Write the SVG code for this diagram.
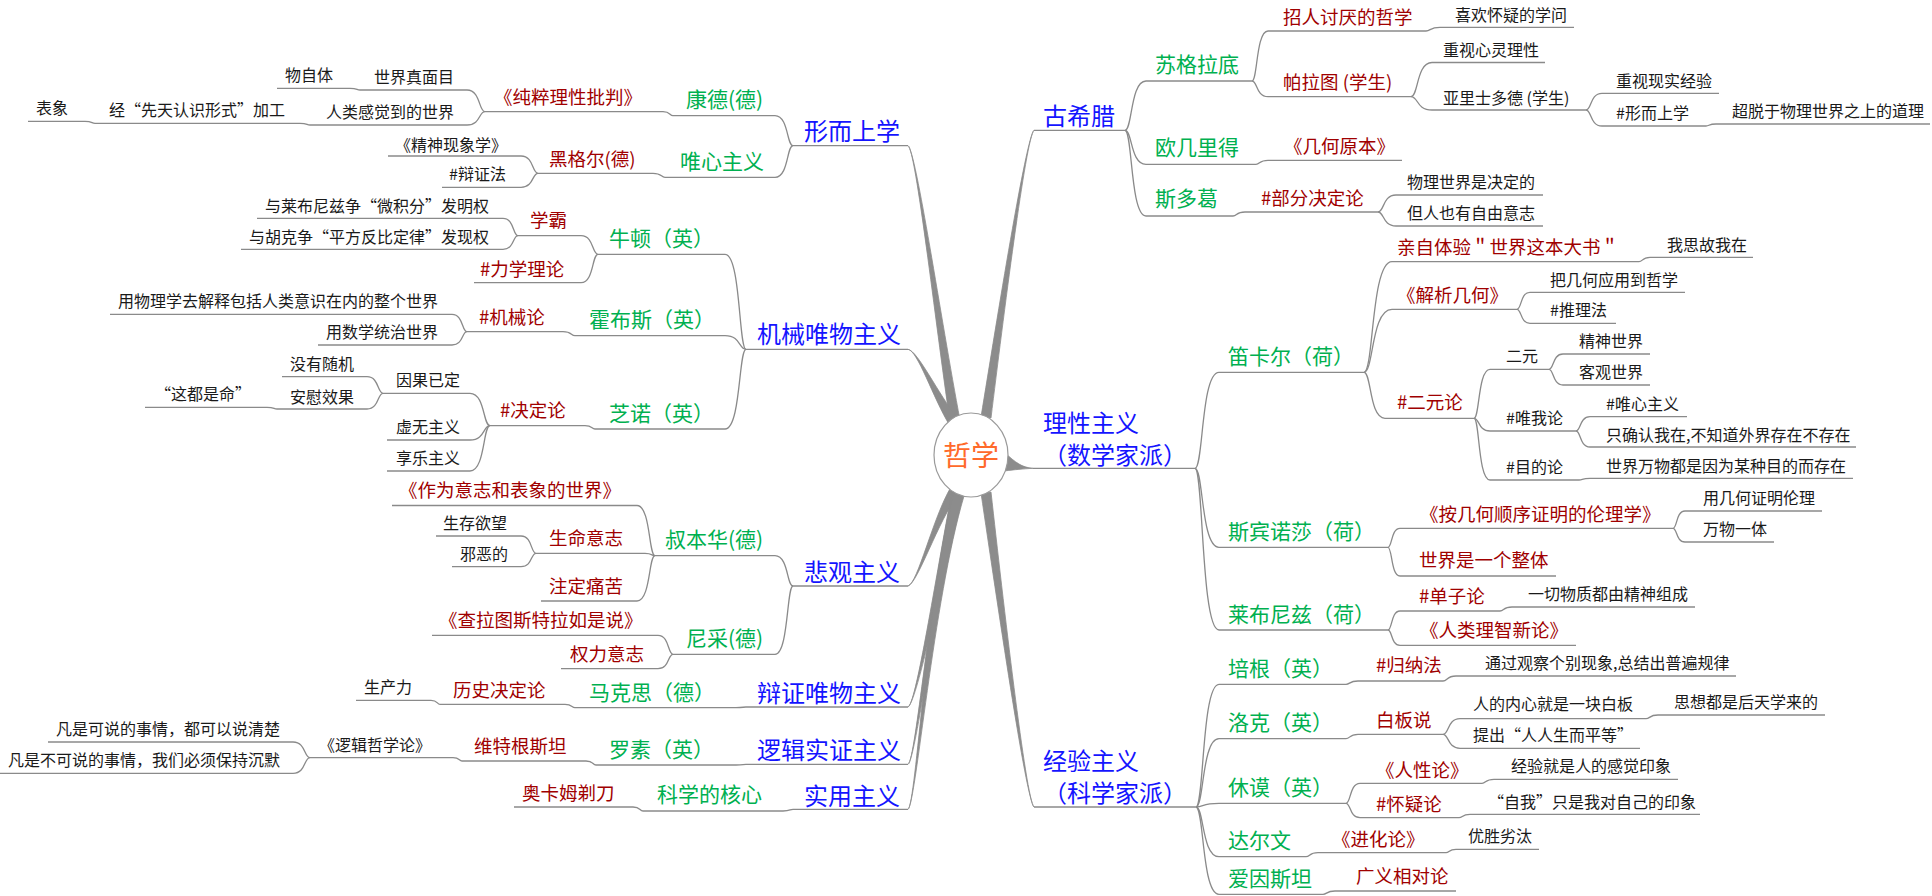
<svg xmlns="http://www.w3.org/2000/svg" width="1932" height="896" viewBox="0 0 1932 896">
<style>
text{font-family:"Noto Sans CJK SC","Noto Sans",sans-serif}
.l1{font-size:24px;fill:#1414ff}
.l2{font-size:21px;fill:#00b050}
.l3{font-size:18.5px;fill:#a00000}
.l4{font-size:16px;fill:#1a1a1a}
.u,.c{stroke:#8a8a8a;stroke-width:1.3;fill:none}
.m{fill:#8c8c8c;stroke:#8c8c8c;stroke-width:0.8}
</style>
<rect width="1932" height="896" fill="#fff"/>
<g id="main-connectors">
<path class="m" d="M908,145.7 C916,150 941,320 960,420 L950,422 C935,320 916,150 908,145.7 Z"/>
<path class="m" d="M908,349.3 C918,351 937.5,393 958,419 L950,426 C932.5,397 918,351 908,349.3 Z"/>
<path class="m" d="M908,586 C918,583 937.4,522 959,493 L951,487 C932.6,518 918,583 908,586 Z"/>
<path class="m" d="M908,707 C916,703 938,601 962,493 L952,491 C932,599 916,703 908,707 Z"/>
<path class="m" d="M908,764.3 C916,760 935,601 963,495 L953,492 C929,599 916,760 908,764.3 Z"/>
<path class="m" d="M908,809.3 C916,805 933,601 964,496 L954,493 C927,599 916,805 908,809.3 Z"/>
<path class="m" d="M1034,130.3 C1026,137 1003,320.5 991,418 L981,417 C997,319.5 1026,137 1034,130.3 Z"/>
<path class="m" d="M1034,807 C1026,800 1003,599.6 991,492 L981,493 C997,600.4 1026,800 1034,807 Z"/>
<path class="m" d="M1033,468.3 C1022,467.5 1016,463 1004,452 L1004,471 C1016,469.5 1022,469 1033,468.3 Z"/>
</g>
<g id="connectors">
<path class="c" d="M1125,130.3 C1132.4,130.3 1130.3,81 1146,81"/>
<path class="c" d="M1125,130.3 C1132.4,130.3 1130.3,164.3 1146,164.3"/>
<path class="c" d="M1125,130.3 C1132.4,130.3 1130.3,216 1146,216"/>
<path class="c" d="M1252,81 C1257.6,81 1256,31 1268,31"/>
<path class="c" d="M1252,81 C1257.6,81 1256,96.7 1268,96.7"/>
<path class="c" d="M1426,31 C1430.9,31 1429.5,27.3 1440,27.3"/>
<path class="c" d="M1411,96.7 C1418.4,96.7 1416.3,62.5 1432,62.5"/>
<path class="c" d="M1411,96.7 C1418.4,96.7 1416.3,110 1432,110"/>
<path class="c" d="M1586,110 C1591.6,110 1590,93.3 1602,93.3"/>
<path class="c" d="M1586,110 C1591.6,110 1590,126 1602,126"/>
<path class="c" d="M1706,126 C1709.5,126 1708.5,124 1716,124"/>
<path class="c" d="M1256,164.3 C1260.2,164.3 1259,160.3 1268,160.3"/>
<path class="c" d="M1233,216 C1237.2,216 1236,212 1245,212"/>
<path class="c" d="M1378,212 C1384.3,212 1382.5,195 1396,195"/>
<path class="c" d="M1378,212 C1384.3,212 1382.5,226 1396,226"/>
<path class="c" d="M1195,468.3 C1203.4,468.3 1201,372.3 1219,372.3"/>
<path class="c" d="M1195,468.3 C1203.4,468.3 1201,547.3 1219,547.3"/>
<path class="c" d="M1195,468.3 C1203.4,468.3 1201,630 1219,630"/>
<path class="c" d="M1364,372.3 C1373.8,372.3 1371,261.7 1392,261.7"/>
<path class="c" d="M1364,372.3 C1373.8,372.3 1371,309.3 1392,309.3"/>
<path class="c" d="M1364,372.3 C1371.4,372.3 1369.3,418.3 1385,418.3"/>
<path class="c" d="M1639,261.7 C1642.9,261.7 1641.8,257.3 1650,257.3"/>
<path class="c" d="M1517,309.3 C1521.6,309.3 1520.3,292.3 1530,292.3"/>
<path class="c" d="M1517,309.3 C1521.6,309.3 1520.3,323.3 1530,323.3"/>
<path class="c" d="M1474,418.3 C1479.6,418.3 1478,369.3 1490,369.3"/>
<path class="c" d="M1474,418.3 C1479.6,418.3 1478,431 1490,431"/>
<path class="c" d="M1474,418.3 C1479.6,418.3 1478,480 1490,480"/>
<path class="c" d="M1549,369.3 C1553.9,369.3 1552.5,354 1563,354"/>
<path class="c" d="M1549,369.3 C1553.9,369.3 1552.5,385 1563,385"/>
<path class="c" d="M1576,431 C1580.9,431 1579.5,416.7 1590,416.7"/>
<path class="c" d="M1576,431 C1580.9,431 1579.5,447 1590,447"/>
<path class="c" d="M1579,480 C1582.9,480 1581.8,478.3 1590,478.3"/>
<path class="c" d="M1388,547.3 C1392.2,547.3 1391,528.3 1400,528.3"/>
<path class="c" d="M1388,547.3 C1392.2,547.3 1391,576 1400,576"/>
<path class="c" d="M1673,528.3 C1677.2,528.3 1676,511 1685,511"/>
<path class="c" d="M1673,528.3 C1677.2,528.3 1676,542 1685,542"/>
<path class="c" d="M1388,630 C1392.2,630 1391,611 1400,611"/>
<path class="c" d="M1388,630 C1392.2,630 1391,645.3 1400,645.3"/>
<path class="c" d="M1500,611 C1504.2,611 1503,607 1512,607"/>
<path class="c" d="M1196,807 C1204,807 1201.8,684.3 1219,684.3"/>
<path class="c" d="M1196,807 C1204,807 1201.8,738.7 1219,738.7"/>
<path class="c" d="M1196,807 C1204,807 1201.8,803.3 1219,803.3"/>
<path class="c" d="M1196,807 C1204,807 1201.8,856.7 1219,856.7"/>
<path class="c" d="M1196,807 C1204,807 1201.8,894.3 1219,894.3"/>
<path class="c" d="M1346,684.3 C1350.2,684.3 1349,681 1358,681"/>
<path class="c" d="M1443,681 C1447.6,681 1446.3,676 1456,676"/>
<path class="c" d="M1346,738.7 C1350.2,738.7 1349,734.3 1358,734.3"/>
<path class="c" d="M1443,734.3 C1449,734.3 1447.3,718.7 1460,718.7"/>
<path class="c" d="M1443,734.3 C1449,734.3 1447.3,748.3 1460,748.3"/>
<path class="c" d="M1646,718.7 C1650.2,718.7 1649,715 1658,715"/>
<path class="c" d="M1346,803.3 C1350.9,803.3 1349.5,783.3 1360,783.3"/>
<path class="c" d="M1346,803.3 C1350.9,803.3 1349.5,817.7 1360,817.7"/>
<path class="c" d="M1482,783.3 C1486.2,783.3 1485,779.3 1494,779.3"/>
<path class="c" d="M1459,817.7 C1462.9,817.7 1461.8,814.3 1470,814.3"/>
<path class="c" d="M1306,856.7 C1310.2,856.7 1309,852.7 1318,852.7"/>
<path class="c" d="M1446,852.7 C1449.5,852.7 1448.5,849.3 1456,849.3"/>
<path class="c" d="M1323,894.3 C1327.2,894.3 1326,891 1335,891"/>
<path class="c" d="M793,145.7 C786.7,145.7 788.5,115.7 775,115.7"/>
<path class="c" d="M793,145.7 C786.7,145.7 788.5,177.3 775,177.3"/>
<path class="c" d="M673,115.7 C669.5,115.7 670.5,111.7 663,111.7"/>
<path class="c" d="M485,111.7 C478.7,111.7 480.5,90 467,90"/>
<path class="c" d="M485,111.7 C478.7,111.7 480.5,125 467,125"/>
<path class="c" d="M360,90 C356.5,90 357.5,88.3 350,88.3"/>
<path class="c" d="M310,125 C306.5,125 307.5,123.3 300,123.3"/>
<path class="c" d="M95,123.3 C91.5,123.3 92.5,121.3 85,121.3"/>
<path class="c" d="M665,177.3 C660.8,177.3 662,173.3 653,173.3"/>
<path class="c" d="M538,173.3 C532,173.3 533.8,156 521,156"/>
<path class="c" d="M538,173.3 C532,173.3 533.8,187.3 521,187.3"/>
<path class="c" d="M746,349.3 C738.7,349.3 740.8,254.3 725,254.3"/>
<path class="c" d="M746,349.3 C738.7,349.3 740.8,335.7 725,335.7"/>
<path class="c" d="M746,349.3 C738.7,349.3 740.8,429 725,429"/>
<path class="c" d="M598,254.3 C592,254.3 593.8,235.7 581,235.7"/>
<path class="c" d="M598,254.3 C592,254.3 593.8,282.7 581,282.7"/>
<path class="c" d="M518,235.7 C512.8,235.7 514.3,218.3 503,218.3"/>
<path class="c" d="M518,235.7 C512.8,235.7 514.3,249.3 503,249.3"/>
<path class="c" d="M575,335.7 C570.8,335.7 572,331.7 563,331.7"/>
<path class="c" d="M467,331.7 C461.8,331.7 463.3,314.3 452,314.3"/>
<path class="c" d="M467,331.7 C461.8,331.7 463.3,345 452,345"/>
<path class="c" d="M595,429 C591.5,429 592.5,425.7 585,425.7"/>
<path class="c" d="M490,425.7 C483,425.7 485,393.3 470,393.3"/>
<path class="c" d="M490,425.7 C483,425.7 485,440 470,440"/>
<path class="c" d="M490,425.7 C483,425.7 485,471 470,471"/>
<path class="c" d="M383,393.3 C377.4,393.3 379,376.7 367,376.7"/>
<path class="c" d="M383,393.3 C377.4,393.3 379,409 367,409"/>
<path class="c" d="M277,409 C273.5,409 274.5,407.3 267,407.3"/>
<path class="c" d="M793,586 C786.7,586 788.5,555.7 775,555.7"/>
<path class="c" d="M793,586 C786.7,586 788.5,654.3 775,654.3"/>
<path class="c" d="M655,555.7 C648.7,555.7 650.5,505.5 637,505.5"/>
<path class="c" d="M655,555.7 C651.5,555.7 652.5,553.3 645,553.3"/>
<path class="c" d="M655,555.7 C648.7,555.7 650.5,601 637,601"/>
<path class="c" d="M536,553.3 C530.8,553.3 532.3,536 521,536"/>
<path class="c" d="M536,553.3 C530.8,553.3 532.3,566.7 521,566.7"/>
<path class="c" d="M673,654.3 C667.8,654.3 669.3,635.3 658,635.3"/>
<path class="c" d="M673,654.3 C667.8,654.3 669.3,668.7 658,668.7"/>
<path class="c" d="M746,707 C742.5,707 743.5,707.7 736,707.7"/>
<path class="c" d="M575,707.7 C571.5,707.7 572.5,704.3 565,704.3"/>
<path class="c" d="M440,704.3 C436.9,704.3 437.8,700.3 431,700.3"/>
<path class="c" d="M746,764.3 C742.5,764.3 743.5,765 736,765"/>
<path class="c" d="M596,765 C592.5,765 593.5,761 586,761"/>
<path class="c" d="M462,761 C458.9,761 459.8,757.7 453,757.7"/>
<path class="c" d="M310,757.7 C304,757.7 305.8,742 293,742"/>
<path class="c" d="M310,757.7 C304,757.7 305.8,773.3 293,773.3"/>
<path class="c" d="M793,809.3 C789.5,809.3 790.5,811 783,811"/>
<path class="c" d="M643,811 C639.5,811 640.5,807 633,807"/>
</g>
<g id="root">
<ellipse cx="971" cy="455" rx="37" ry="42" fill="#fff" stroke="#9a9a9a" stroke-width="1.2"/>
<text x="971" y="466" text-anchor="middle" style="font-size:28px;fill:#ff6a2b">哲学</text>
</g>
<g id="n-guxila"><text class="l1" x="1043" y="125">古希腊</text><path class="u" d="M1034,130.3 H1125"/></g>
<g id="n-lixing"><text class="l1"><tspan x="1043" y="432">理性主义</tspan><tspan x="1043" y="464">（数学家派）</tspan></text><path class="u" d="M1033,468.3 H1195"/></g>
<g id="n-jingyan"><text class="l1"><tspan x="1043" y="770">经验主义</tspan><tspan x="1043" y="802">（科学家派）</tspan></text><path class="u" d="M1034,807 H1196"/></g>
<g id="n-sugeladi"><text class="l2" x="1155" y="72">苏格拉底</text><path class="u" d="M1146,81 H1252"/></g>
<g id="n-oujilide"><text class="l2" x="1155" y="155">欧几里得</text><path class="u" d="M1146,164.3 H1256"/></g>
<g id="n-siduoge"><text class="l2" x="1155" y="206">斯多葛</text><path class="u" d="M1146,216 H1233"/></g>
<g id="n-zhaoren"><text class="l3" x="1283" y="24">招人讨厌的哲学</text><path class="u" d="M1268,31 H1426"/></g>
<g id="n-palatu"><text class="l3" x="1283" y="89">帕拉图 (学生)</text><path class="u" d="M1268,96.7 H1411"/></g>
<g id="n-xihuan"><text class="l4" x="1455" y="21">喜欢怀疑的学问</text><path class="u" d="M1440,27.3 H1574"/></g>
<g id="n-xinling"><text class="l4" x="1443" y="56">重视心灵理性</text><path class="u" d="M1432,62.5 H1545"/></g>
<g id="n-yalishiduode"><text class="l4" x="1443" y="104">亚里士多德 (学生)</text><path class="u" d="M1432,110 H1586"/></g>
<g id="n-xianshi"><text class="l4" x="1616" y="87">重视现实经验</text><path class="u" d="M1602,93.3 H1719"/></g>
<g id="n-xingershang2"><text class="l4" x="1616" y="119">#形而上学</text><path class="u" d="M1602,126 H1706"/></g>
<g id="n-chaotuo"><text class="l4" x="1732" y="117">超脱于物理世界之上的道理</text><path class="u" d="M1716,124 H1930"/></g>
<g id="n-jihe"><text class="l3" x="1284" y="153">《几何原本》</text><path class="u" d="M1268,160.3 H1402"/></g>
<g id="n-bufen"><text class="l3" x="1261" y="205">#部分决定论</text><path class="u" d="M1245,212 H1378"/></g>
<g id="n-wuli"><text class="l4" x="1407" y="188">物理世界是决定的</text><path class="u" d="M1396,195 H1543"/></g>
<g id="n-danren"><text class="l4" x="1407" y="219">但人也有自由意志</text><path class="u" d="M1396,226 H1543"/></g>
<g id="n-dikaer"><text class="l2" x="1228" y="364">笛卡尔（荷）</text><path class="u" d="M1219,372.3 H1364"/></g>
<g id="n-sibinnuosha"><text class="l2" x="1228" y="539">斯宾诺莎（荷）</text><path class="u" d="M1219,547.3 H1388"/></g>
<g id="n-laibunizi"><text class="l2" x="1228" y="622">莱布尼兹（荷）</text><path class="u" d="M1219,630 H1388"/></g>
<g id="n-qinzi"><text class="l3" x="1397" y="254">亲自体验＂世界这本大书＂</text><path class="u" d="M1392,261.7 H1639"/></g>
<g id="n-jiexi"><text class="l3" x="1397" y="302">《解析几何》</text><path class="u" d="M1392,309.3 H1517"/></g>
<g id="n-eryuanlun"><text class="l3" x="1397" y="409">#二元论</text><path class="u" d="M1385,418.3 H1474"/></g>
<g id="n-wosi"><text class="l4" x="1667" y="251">我思故我在</text><path class="u" d="M1650,257.3 H1753"/></g>
<g id="n-baji"><text class="l4" x="1550" y="286">把几何应用到哲学</text><path class="u" d="M1530,292.3 H1685"/></g>
<g id="n-tuili"><text class="l4" x="1550" y="316">#推理法</text><path class="u" d="M1530,323.3 H1616"/></g>
<g id="n-eryuan"><text class="l4" x="1506" y="362">二元</text><path class="u" d="M1490,369.3 H1549"/></g>
<g id="n-weiwo"><text class="l4" x="1506" y="424">#唯我论</text><path class="u" d="M1490,431 H1576"/></g>
<g id="n-mudi"><text class="l4" x="1506" y="473">#目的论</text><path class="u" d="M1490,480 H1579"/></g>
<g id="n-jingshen"><text class="l4" x="1579" y="347">精神世界</text><path class="u" d="M1563,354 H1650"/></g>
<g id="n-keguan"><text class="l4" x="1579" y="378">客观世界</text><path class="u" d="M1563,385 H1650"/></g>
<g id="n-weixin2"><text class="l4" x="1606" y="410">#唯心主义</text><path class="u" d="M1590,416.7 H1687"/></g>
<g id="n-zhiqueren"><text class="l4" x="1606" y="441">只确认我在,不知道外界存在不存在</text><path class="u" d="M1590,447 H1856"/></g>
<g id="n-wanwu"><text class="l4" x="1606" y="472">世界万物都是因为某种目的而存在</text><path class="u" d="M1590,478.3 H1853"/></g>
<g id="n-anjihe"><text class="l3" x="1420" y="521">《按几何顺序证明的伦理学》</text><path class="u" d="M1400,528.3 H1673"/></g>
<g id="n-yongjihe"><text class="l4" x="1703" y="504">用几何证明伦理</text><path class="u" d="M1685,511 H1822"/></g>
<g id="n-wanwuyiti"><text class="l4" x="1703" y="535">万物一体</text><path class="u" d="M1685,542 H1774"/></g>
<g id="n-zhengti"><text class="l3" x="1419" y="567">世界是一个整体</text><path class="u" d="M1400,576 H1556"/></g>
<g id="n-danzi"><text class="l3" x="1419" y="603">#单子论</text><path class="u" d="M1400,611 H1500"/></g>
<g id="n-yiqie"><text class="l4" x="1528" y="600">一切物质都由精神组成</text><path class="u" d="M1512,607 H1695"/></g>
<g id="n-renlei"><text class="l3" x="1420" y="637">《人类理智新论》</text><path class="u" d="M1400,645.3 H1576"/></g>
<g id="n-peigen"><text class="l2" x="1228" y="676">培根（英）</text><path class="u" d="M1219,684.3 H1346"/></g>
<g id="n-guina"><text class="l3" x="1376" y="672">#归纳法</text><path class="u" d="M1358,681 H1443"/></g>
<g id="n-tongguo"><text class="l4" x="1485" y="669">通过观察个别现象,总结出普遍规律</text><path class="u" d="M1456,676 H1736"/></g>
<g id="n-luoke"><text class="l2" x="1228" y="730">洛克（英）</text><path class="u" d="M1219,738.7 H1346"/></g>
<g id="n-baiban"><text class="l3" x="1376" y="727">白板说</text><path class="u" d="M1358,734.3 H1443"/></g>
<g id="n-neixin"><text class="l4" x="1473" y="710">人的内心就是一块白板</text><path class="u" d="M1460,718.7 H1646"/></g>
<g id="n-sixiang"><text class="l4" x="1674" y="708">思想都是后天学来的</text><path class="u" d="M1658,715 H1825"/></g>
<g id="n-tichu"><text class="l4" x="1473" y="741">提出“人人生而平等”</text><path class="u" d="M1460,748.3 H1640"/></g>
<g id="n-xiumo"><text class="l2" x="1228" y="795">休谟（英）</text><path class="u" d="M1219,803.3 H1346"/></g>
<g id="n-renxing"><text class="l3" x="1376" y="777">《人性论》</text><path class="u" d="M1360,783.3 H1482"/></g>
<g id="n-jingyanjiushi"><text class="l4" x="1511" y="772">经验就是人的感觉印象</text><path class="u" d="M1494,779.3 H1678"/></g>
<g id="n-huaiyi"><text class="l3" x="1376" y="811">#怀疑论</text><path class="u" d="M1360,817.7 H1459"/></g>
<g id="n-ziwo"><text class="l4" x="1488" y="808">“自我”只是我对自己的印象</text><path class="u" d="M1470,814.3 H1700"/></g>
<g id="n-daerwen"><text class="l2" x="1228" y="848">达尔文</text><path class="u" d="M1219,856.7 H1306"/></g>
<g id="n-jinhua"><text class="l3" x="1332" y="846">《进化论》</text><path class="u" d="M1318,852.7 H1446"/></g>
<g id="n-yousheng"><text class="l4" x="1468" y="842">优胜劣汰</text><path class="u" d="M1456,849.3 H1539"/></g>
<g id="n-aiyinsitan"><text class="l2" x="1228" y="886">爱因斯坦</text><path class="u" d="M1219,894.3 H1323"/></g>
<g id="n-guangyi"><text class="l3" x="1356" y="883">广义相对论</text><path class="u" d="M1335,891 H1456"/></g>
<g id="n-xingershang"><text class="l1" x="804" y="140">形而上学</text><path class="u" d="M793,145.7 H908"/></g>
<g id="n-jixie"><text class="l1" x="757" y="343">机械唯物主义</text><path class="u" d="M746,349.3 H908"/></g>
<g id="n-beiguan"><text class="l1" x="804" y="581">悲观主义</text><path class="u" d="M793,586 H908"/></g>
<g id="n-bianzheng"><text class="l1" x="757" y="702">辩证唯物主义</text><path class="u" d="M746,707 H908"/></g>
<g id="n-luoji"><text class="l1" x="757" y="759">逻辑实证主义</text><path class="u" d="M746,764.3 H908"/></g>
<g id="n-shiyong"><text class="l1" x="804" y="805">实用主义</text><path class="u" d="M793,809.3 H908"/></g>
<g id="n-kangde"><text class="l2" x="686" y="107">康德(德)</text><path class="u" d="M673,115.7 H775"/></g>
<g id="n-weixin"><text class="l2" x="680" y="169">唯心主义</text><path class="u" d="M665,177.3 H775"/></g>
<g id="n-chuncui"><text class="l3" x="494" y="104">《纯粹理性批判》</text><path class="u" d="M485,111.7 H663"/></g>
<g id="n-zhenmianmu"><text class="l4" x="374" y="83">世界真面目</text><path class="u" d="M360,90 H467"/></g>
<g id="n-wuziti"><text class="l4" x="285" y="81">物自体</text><path class="u" d="M277,88.3 H350"/></g>
<g id="n-ganjue"><text class="l4" x="326" y="118">人类感觉到的世界</text><path class="u" d="M310,125 H467"/></g>
<g id="n-xiantian"><text class="l4" x="109" y="116">经“先天认识形式”加工</text><path class="u" d="M95,123.3 H300"/></g>
<g id="n-biaoxiang"><text class="l4" x="36" y="114">表象</text><path class="u" d="M28,121.3 H85"/></g>
<g id="n-heigeer"><text class="l3" x="549" y="166">黑格尔(德)</text><path class="u" d="M538,173.3 H653"/></g>
<g id="n-jingshenxianxiang"><text class="l4" x="395" y="151">《精神现象学》</text><path class="u" d="M388,156 H521"/></g>
<g id="n-bianzhengfa"><text class="l4" x="449" y="180">#辩证法</text><path class="u" d="M442,187.3 H521"/></g>
<g id="n-niudun"><text class="l2" x="609" y="246">牛顿（英）</text><path class="u" d="M598,254.3 H725"/></g>
<g id="n-huobusi"><text class="l2" x="589" y="327">霍布斯（英）</text><path class="u" d="M575,335.7 H725"/></g>
<g id="n-zhinuo"><text class="l2" x="609" y="421">芝诺（英）</text><path class="u" d="M595,429 H725"/></g>
<g id="n-xueba"><text class="l3" x="530" y="227">学霸</text><path class="u" d="M518,235.7 H581"/></g>
<g id="n-lixue"><text class="l3" x="480" y="276">#力学理论</text><path class="u" d="M474,282.7 H581"/></g>
<g id="n-weijifen"><text class="l4" x="265" y="212">与莱布尼兹争“微积分”发明权</text><path class="u" d="M257,218.3 H503"/></g>
<g id="n-pingfang"><text class="l4" x="249" y="243">与胡克争“平方反比定律”发现权</text><path class="u" d="M241,249.3 H503"/></g>
<g id="n-jixielun"><text class="l3" x="479" y="324">#机械论</text><path class="u" d="M467,331.7 H563"/></g>
<g id="n-yongwuli"><text class="l4" x="118" y="307">用物理学去解释包括人类意识在内的整个世界</text><path class="u" d="M110,314.3 H452"/></g>
<g id="n-yongshuxue"><text class="l4" x="326" y="338">用数学统治世界</text><path class="u" d="M318,345 H452"/></g>
<g id="n-jueding"><text class="l3" x="500" y="417">#决定论</text><path class="u" d="M490,425.7 H585"/></g>
<g id="n-yinguo"><text class="l4" x="396" y="386">因果已定</text><path class="u" d="M383,393.3 H470"/></g>
<g id="n-xuwu"><text class="l4" x="396" y="433">虚无主义</text><path class="u" d="M387,440 H470"/></g>
<g id="n-xiangle"><text class="l4" x="396" y="464">享乐主义</text><path class="u" d="M387,471 H470"/></g>
<g id="n-meiyou"><text class="l4" x="290" y="370">没有随机</text><path class="u" d="M282,376.7 H367"/></g>
<g id="n-anwei"><text class="l4" x="290" y="403">安慰效果</text><path class="u" d="M277,409 H367"/></g>
<g id="n-ming"><text class="l4" x="155" y="400">“这都是命”</text><path class="u" d="M145,407.3 H267"/></g>
<g id="n-shubenhua"><text class="l2" x="665" y="547">叔本华(德)</text><path class="u" d="M655,555.7 H775"/></g>
<g id="n-nicai"><text class="l2" x="686" y="646">尼采(德)</text><path class="u" d="M673,654.3 H775"/></g>
<g id="n-zuowei"><text class="l3" x="399" y="497">《作为意志和表象的世界》</text><path class="u" d="M392,505.5 H637"/></g>
<g id="n-shengming"><text class="l3" x="549" y="545">生命意志</text><path class="u" d="M536,553.3 H645"/></g>
<g id="n-zhuding"><text class="l3" x="549" y="593">注定痛苦</text><path class="u" d="M541,601 H637"/></g>
<g id="n-shengcun"><text class="l4" x="443" y="529">生存欲望</text><path class="u" d="M436,536 H521"/></g>
<g id="n-xiee"><text class="l4" x="460" y="560">邪恶的</text><path class="u" d="M452,566.7 H521"/></g>
<g id="n-chala"><text class="l3" x="439" y="627">《查拉图斯特拉如是说》</text><path class="u" d="M432,635.3 H658"/></g>
<g id="n-quanli"><text class="l3" x="570" y="661">权力意志</text><path class="u" d="M561,668.7 H658"/></g>
<g id="n-makesi"><text class="l2" x="589" y="700">马克思（德）</text><path class="u" d="M575,707.7 H736"/></g>
<g id="n-lishi"><text class="l3" x="453" y="697">历史决定论</text><path class="u" d="M440,704.3 H565"/></g>
<g id="n-shengchanli"><text class="l4" x="364" y="693">生产力</text><path class="u" d="M356,700.3 H431"/></g>
<g id="n-luosu"><text class="l2" x="609" y="757">罗素（英）</text><path class="u" d="M596,765 H736"/></g>
<g id="n-weitegen"><text class="l3" x="474" y="753">维特根斯坦</text><path class="u" d="M462,761 H586"/></g>
<g id="n-luojizhexue"><text class="l4" x="319" y="751">《逻辑哲学论》</text><path class="u" d="M310,757.7 H453"/></g>
<g id="n-keshuo"><text class="l4" x="56" y="735">凡是可说的事情，都可以说清楚</text><path class="u" d="M48,742 H293"/></g>
<g id="n-bukeshuo"><text class="l4" x="8" y="766">凡是不可说的事情，我们必须保持沉默</text><path class="u" d="M0,773.3 H293"/></g>
<g id="n-hexin"><text class="l2" x="657" y="802">科学的核心</text><path class="u" d="M643,811 H783"/></g>
<g id="n-aokamu"><text class="l3" x="522" y="800">奥卡姆剃刀</text><path class="u" d="M514,807 H633"/></g>
</svg>
